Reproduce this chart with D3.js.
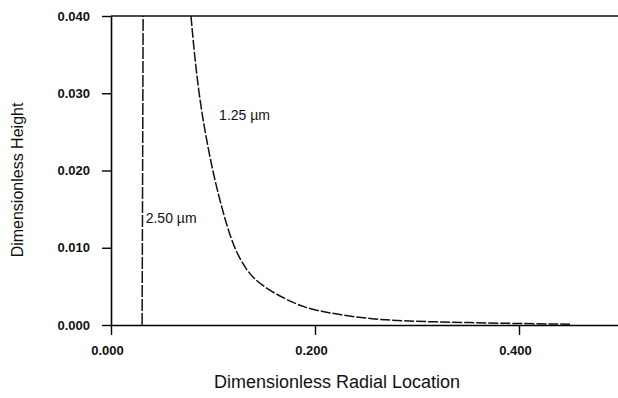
<!DOCTYPE html>
<html>
<head>
<meta charset="utf-8">
<script src="https://cdn.jsdelivr.net/npm/d3@7"></script>
<style>
  body { margin: 0; background: #fff; }
  svg { display: block; }
</style>
</head>
<body>
<div id="chart"></div>
<script>
// Tick values
const xTicks = [0, 0.2, 0.4];
const yTicks = [0, 0.01, 0.02, 0.03, 0.04];

// 1.25 um profile
const curve125X = [0.0784, 0.0853, 0.0990, 0.1118, 0.1206, 0.1324, 0.1461, 0.1725, 0.190, 0.207, 0.2569, 0.3157, 0.394, 0.45];
const curve125Y = [0.0400, 0.0300, 0.0200, 0.0136, 0.0100, 0.0071, 0.0052, 0.0032, 0.0023, 0.0017, 0.00065, 0.0004, 0.0002, 0.0001];

// 2.50 um profile: a near-vertical wall
const curve250X = [0.0305, 0.0315];
const curve250Y = [0, 0.040];

const labels = [
    { text: "1.25 \u00b5m", x: 0.106, y: 0.0272 },
    { text: "2.50 \u00b5m", x: 0.034, y: 0.0138 }
];

const W = 618, H = 398;
const margin = { top: 16, right: 0, bottom: 73, left: 111 };
const width = W - margin.left - margin.right;
const height = H - margin.top - margin.bottom;

const svg = d3.select("#chart").append("svg")
    .attr("width", W)
    .attr("height", H);

const g = svg.append("g").attr("transform", `translate(${margin.left},${margin.top})`);

const x = d3.scaleLinear().domain([0, width / 1020]).range([0, width]);
const y = d3.scaleLinear().domain([0, 0.04]).range([height, 0]);

const fmt = d3.format(".3f");
const tickFont = "bold 13px 'Liberation Sans', Arial, sans-serif";

// x axis
const xAxis = g.append("g")
    .attr("transform", `translate(0,${height})`)
    .call(d3.axisBottom(x).tickValues(xTicks).tickFormat(fmt).tickSize(10).tickSizeOuter(0));
xAxis.select(".domain").attr("stroke-width", 1.6);
xAxis.selectAll(".tick line").attr("stroke-width", 1.4);
xAxis.selectAll("text")
    .attr("y", 21)
    .attr("dy", "0.71em")
    .attr("dx", "-4")
    .style("font", tickFont)
    .attr("fill", "#111");

// y axis
const yAxis = g.append("g")
    .call(d3.axisLeft(y).tickValues(yTicks).tickFormat(fmt).tickSize(9).tickSizeOuter(0));
yAxis.select(".domain").attr("stroke-width", 1.6);
yAxis.selectAll(".tick line").attr("stroke-width", 1.4);
yAxis.selectAll("text")
    .attr("x", -21)
    .style("font", tickFont)
    .attr("fill", "#111");

// top line at 0.040
g.append("line")
    .attr("x1", 0).attr("x2", width)
    .attr("y1", y(0.04)).attr("y2", y(0.04))
    .attr("stroke", "#111")
    .attr("stroke-width", 1.6);

const line = d3.line()
    .curve(d3.curveBasis)
    .x((d) => x(d[0]))
    .y((d) => y(d[1]));

g.append("path")
    .datum(curve125X.map((v, i) => [v, curve125Y[i]]))
    .attr("fill", "none")
    .attr("stroke", "#111")
    .attr("stroke-width", 1.5)
    .attr("stroke-dasharray", "10,2")
    .attr("d", line);

g.append("path")
    .datum(curve250X.map((v, i) => [v, curve250Y[i]]))
    .attr("fill", "none")
    .attr("stroke", "#111")
    .attr("stroke-width", 1.5)
    .attr("stroke-dasharray", "12,2")
    .attr("d", d3.line().x((d) => x(d[0])).y((d) => y(d[1])));

// curve labels
g.selectAll(".lbl")
    .data(labels)
    .enter()
    .append("text")
    .attr("class", "lbl")
    .attr("x", (d) => x(d.x))
    .attr("y", (d) => y(d.y))
    .attr("dy", "0.35em")
    .style("font", "14px 'Liberation Sans', Arial, sans-serif")
    .attr("fill", "#111")
    .text((d) => d.text);

// axis titles
svg.append("text")
    .attr("x", 337)
    .attr("y", 388)
    .attr("text-anchor", "middle")
    .style("font", "18px 'Liberation Sans', Arial, sans-serif")
    .attr("fill", "#111")
    .text("Dimensionless Radial Location");

svg.append("text")
    .attr("transform", "translate(17,180) rotate(-90)")
    .attr("text-anchor", "middle")
    .attr("dy", "0.35em")
    .style("font", "16px 'Liberation Sans', Arial, sans-serif")
    .attr("fill", "#111")
    .text("Dimensionless Height");
</script>
</body>
</html>
